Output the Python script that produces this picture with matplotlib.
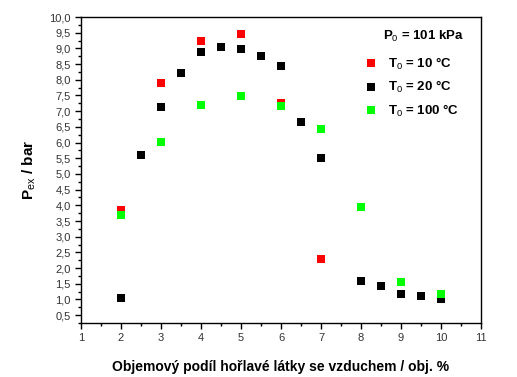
# Pex vs. koncentrace horlave latky

import matplotlib.pyplot as plt
from matplotlib.ticker import MultipleLocator, FuncFormatter

plt.rcParams['font.family'] = ['Liberation Sans', 'DejaVu Sans']
plt.rcParams['mathtext.fontset'] = 'custom'
plt.rcParams['mathtext.rm'] = 'Liberation Sans'
plt.rcParams['mathtext.it'] = 'Liberation Sans'
plt.rcParams['mathtext.bf'] = 'Liberation Sans:bold'

# T0 = 10 °C
x_10 = [2, 3, 4, 5, 6, 7]
p_10 = [3.85, 7.9, 9.25, 9.45, 7.25, 2.3]

# T0 = 20 °C
x_20 = [2, 2.5, 3, 3.5, 4, 4.5, 5, 5.5, 6, 6.5, 7, 8, 8.5, 9, 9.5, 10]
p_20 = [1.05, 5.6, 7.12, 8.2, 8.88, 9.05, 8.98, 8.75, 8.45, 6.67, 5.5,
        1.6, 1.42, 1.17, 1.1, 1.03]

# T0 = 100 °C
x_100 = [2, 3, 4, 5, 6, 7, 8, 9, 10]
p_100 = [3.68, 6.02, 7.2, 7.47, 7.15, 6.43, 3.95, 1.55, 1.18]

labels = ["T$_0$ = 10 °C", "T$_0$ = 20 °C", "T$_0$ = 100 °C"]

fig = plt.figure(figsize=(5.17, 3.77), dpi=100)
ax = fig.add_axes([0.1567, 0.1432, 0.7737, 0.8117])

ax.plot(x_10, p_10, 's', c='#ff0000', ms=5.5, mew=0, label=labels[0])
ax.plot(x_20, p_20, 's', c='#000000', ms=5.5, mew=0, label=labels[1])
ax.plot(x_100, p_100, 's', c='#00ff00', ms=5.5, mew=0, label=labels[2])

ax.set_xlim(1, 11)
ax.set_ylim(0.25, 10.0)
ax.xaxis.set_major_locator(MultipleLocator(1))
ax.xaxis.set_minor_locator(MultipleLocator(0.5))
ax.yaxis.set_major_locator(MultipleLocator(0.5))
ax.yaxis.set_minor_locator(MultipleLocator(0.25))
ax.yaxis.set_major_formatter(FuncFormatter(lambda v, p: f"{v:.1f}".replace('.', ',')))
ax.tick_params(which='major', direction='out', length=4, width=1,
               labelsize=8, labelcolor='#333333', top=False, right=False)
ax.tick_params(which='minor', direction='out', length=2, width=1,
               top=False, right=False)
for s in ax.spines.values():
    s.set_linewidth(1)

ax.set_xlabel("Objemový podíl hořlavé látky se vzduchem / obj. %",
              fontsize=10, fontweight='bold', labelpad=12)
ax.set_ylabel("P$_{\\mathrm{ex}}$ / bar", fontsize=11, fontweight='bold', labelpad=8)

ax.text(0.755, 0.935, "P$_0$ = 101 kPa", transform=ax.transAxes,
        fontsize=9.5, fontweight='bold', va='center')
ax.legend(loc='upper left', bbox_to_anchor=(0.695, 0.89), frameon=False,
          prop={'size': 9.5, 'weight': 'bold'}, handletextpad=0.8,
          labelspacing=0.55, borderaxespad=0, handlelength=1)

plt.savefig("out.png", dpi=100)
